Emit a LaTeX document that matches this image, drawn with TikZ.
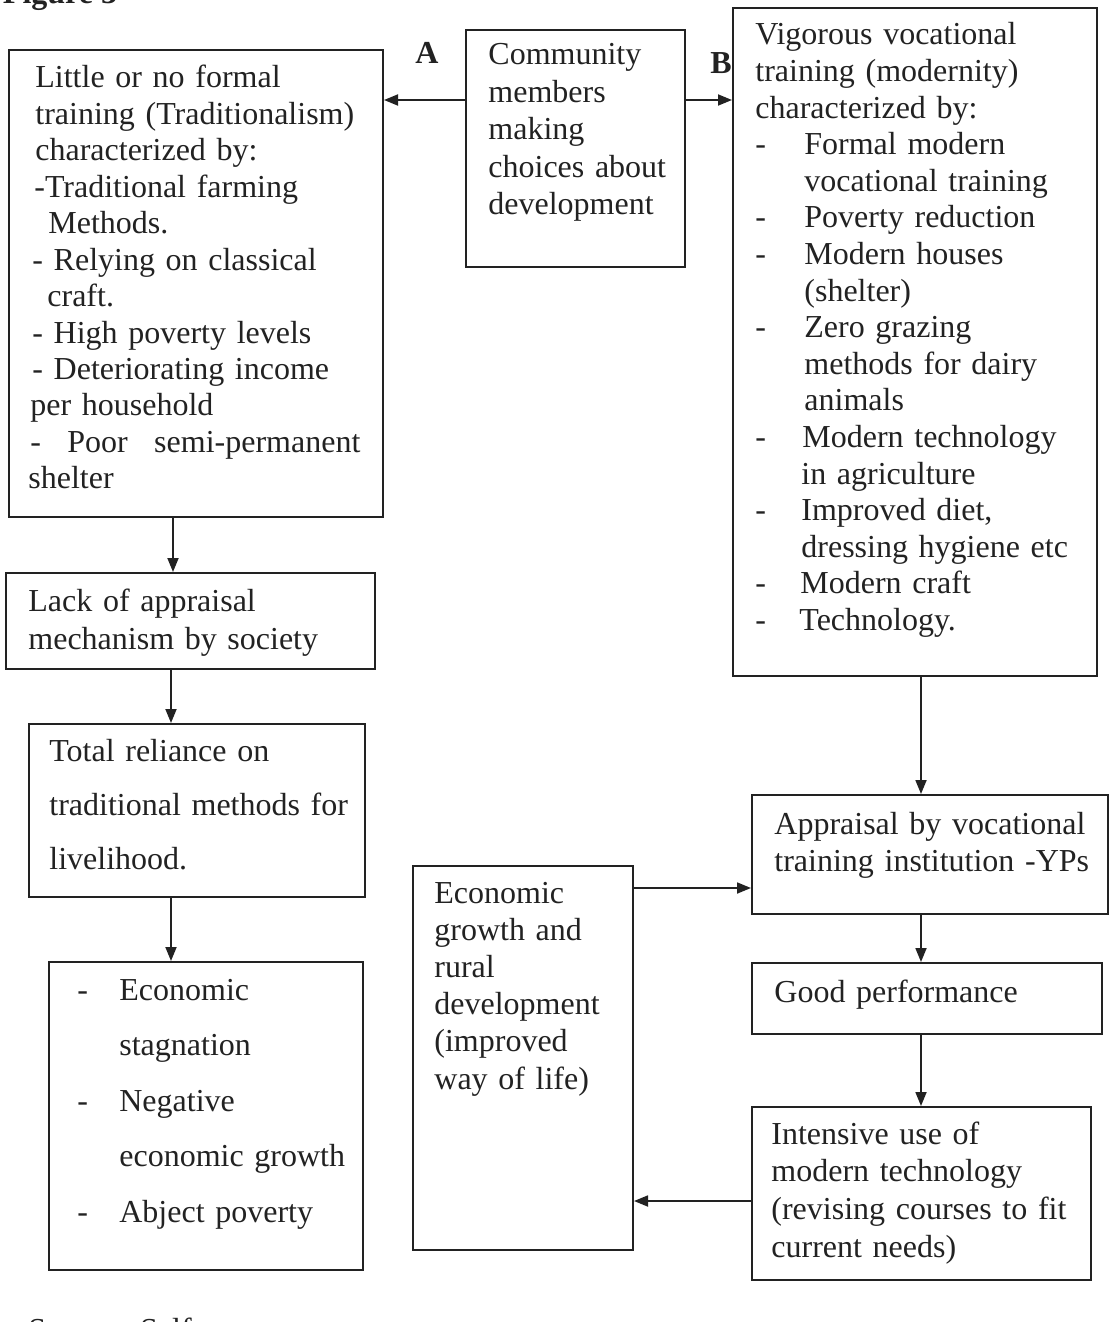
\documentclass[tikz,border=0pt]{standalone}
\usepackage{fontspec}
\setmainfont{Liberation Serif}
\usetikzlibrary{fit,arrows.meta}
\definecolor{ink}{HTML}{222222}
\begin{document}
\begin{tikzpicture}[x=0.5pt,y=-0.5pt,
  box/.style={draw=ink, line width=1pt, inner sep=0pt},
  txt/.style={anchor=base west, inner sep=0pt, text width=220pt, align=left, text=ink,
              font=\fontsize{16}{#1}\selectfont},
  lbl/.style={anchor=base, inner sep=0pt, text=ink, font=\fontsize{16}{18}\selectfont\bfseries},
  arr/.style={draw=ink, line width=0.9pt, -{Triangle[length=7pt,width=5.5pt]}}]
\useasboundingbox (0,0) rectangle (1109,1322);
\clip (0,0) rectangle (1109,1322);

% boxes
\node[box, fit={(9,50) (383,517)}] (L1) {};
\node[box, fit={(466,30) (685,267)}] (C) {};
\node[box, fit={(733,8) (1097,676)}] (R1) {};
\node[box, fit={(6,573) (375,669)}] (L2) {};
\node[box, fit={(29,724) (365,897)}] (L3) {};
\node[box, fit={(49,962) (363,1270)}] (L4) {};
\node[box, fit={(413,866) (633,1250)}] (M) {};
\node[box, fit={(752,795) (1108,914)}] (R2) {};
\node[box, fit={(752,963) (1102,1034)}] (R3) {};
\node[box, fit={(752,1107) (1091,1280)}] (R4) {};

% texts
\node[lbl] (fig) at (60,4) {Figure 3};
\node[txt=18pt] (src) at (28,1340) {Source:\hspace{7pt}Self};

\node[txt=18.22pt] (tL1) at (30,88) {%
\hspace*{2.5pt}Little or no formal\\
\hspace*{2.5pt}training (Traditionalism)\\
\hspace*{2.5pt}characterized by:\\
\hspace*{2pt}-Traditional farming\\
\hspace*{9pt}Methods.\\
\hspace*{1pt}- Relying on classical\\
\hspace*{8.5pt}craft.\\
\hspace*{1pt}- High poverty levels\\
\hspace*{1pt}- Deteriorating income\\
per household\\
\makebox[165pt][s]{-\hfill Poor\hfill semi-permanent}\\
\hspace*{-1pt}shelter};

\node[txt=18.75pt] (tC) at (488,65) {Community\\members\\making\\choices about\\development};

\node[txt=18.3pt] (tR1) at (755,45) {%
Vigorous vocational\\
training (modernity)\\
characterized by:\\
\makebox[24.5pt][l]{-}Formal modern\\
\hspace*{24.5pt}vocational training\\
\makebox[24.5pt][l]{-}Poverty reduction\\
\makebox[24.5pt][l]{-}Modern houses\\
\hspace*{24.5pt}(shelter)\\
\makebox[24.5pt][l]{-}Zero grazing\\
\hspace*{24.5pt}methods for dairy\\
\hspace*{24.5pt}animals\\
\makebox[23.5pt][l]{-}Modern technology\\
\hspace*{23pt}in agriculture\\
\makebox[23pt][l]{-}Improved diet,\\
\hspace*{23pt}dressing hygiene etc\\
\makebox[22.5pt][l]{-}Modern craft\\
\makebox[22pt][l]{-}Technology.};

\node[txt=19pt] (tL2) at (28,611) {Lack of appraisal\\mechanism by society};
\node[txt=27pt] (tL3) at (49,761) {Total reliance on\\traditional methods for\\livelihood.};
\node[txt=27.75pt] (tL4) at (77,1000) {%
\makebox[21pt][l]{-}Economic\\
\hspace*{21pt}stagnation\\
\makebox[21pt][l]{-}Negative\\
\hspace*{21pt}economic growth\\
\makebox[21pt][l]{-}Abject poverty};
\node[txt=18.6pt] (tM) at (434,903) {Economic\\growth and\\rural\\development\\(improved\\way of life)};
\node[txt=18.5pt] (tR2) at (774,834) {Appraisal by vocational\\training institution -YPs};
\node[txt=18.5pt] (tR3) at (774,1002) {Good performance};
\node[txt=18.85pt] (tR4) at (771,1144) {Intensive use of\\modern technology\\(revising courses to fit\\current needs)};

\node[lbl] (A) at (427,64) {A};
\node[lbl] (B) at (721,74) {B};

% connectors
\draw[arr] (C.west |- 0,100) -- (L1.east |- 0,100);
\draw[arr] (C.east |- 0,100) -- (R1.west |- 0,100);
\draw[arr] (L1.south -| 173,0) -- (L2.north -| 173,0);
\draw[arr] (L2.south -| 171,0) -- (L3.north -| 171,0);
\draw[arr] (L3.south -| 171,0) -- (L4.north -| 171,0);
\draw[arr] (R1.south -| 921,0) -- (R2.north -| 921,0);
\draw[arr] (R2.south -| 921,0) -- (R3.north -| 921,0);
\draw[arr] (R3.south -| 921,0) -- (R4.north -| 921,0);
\draw[arr] (M.east |- 0,888) -- (R2.west |- 0,888);
\draw[arr] (R4.west |- 0,1201) -- (M.east |- 0,1201);
\end{tikzpicture}
\end{document}
